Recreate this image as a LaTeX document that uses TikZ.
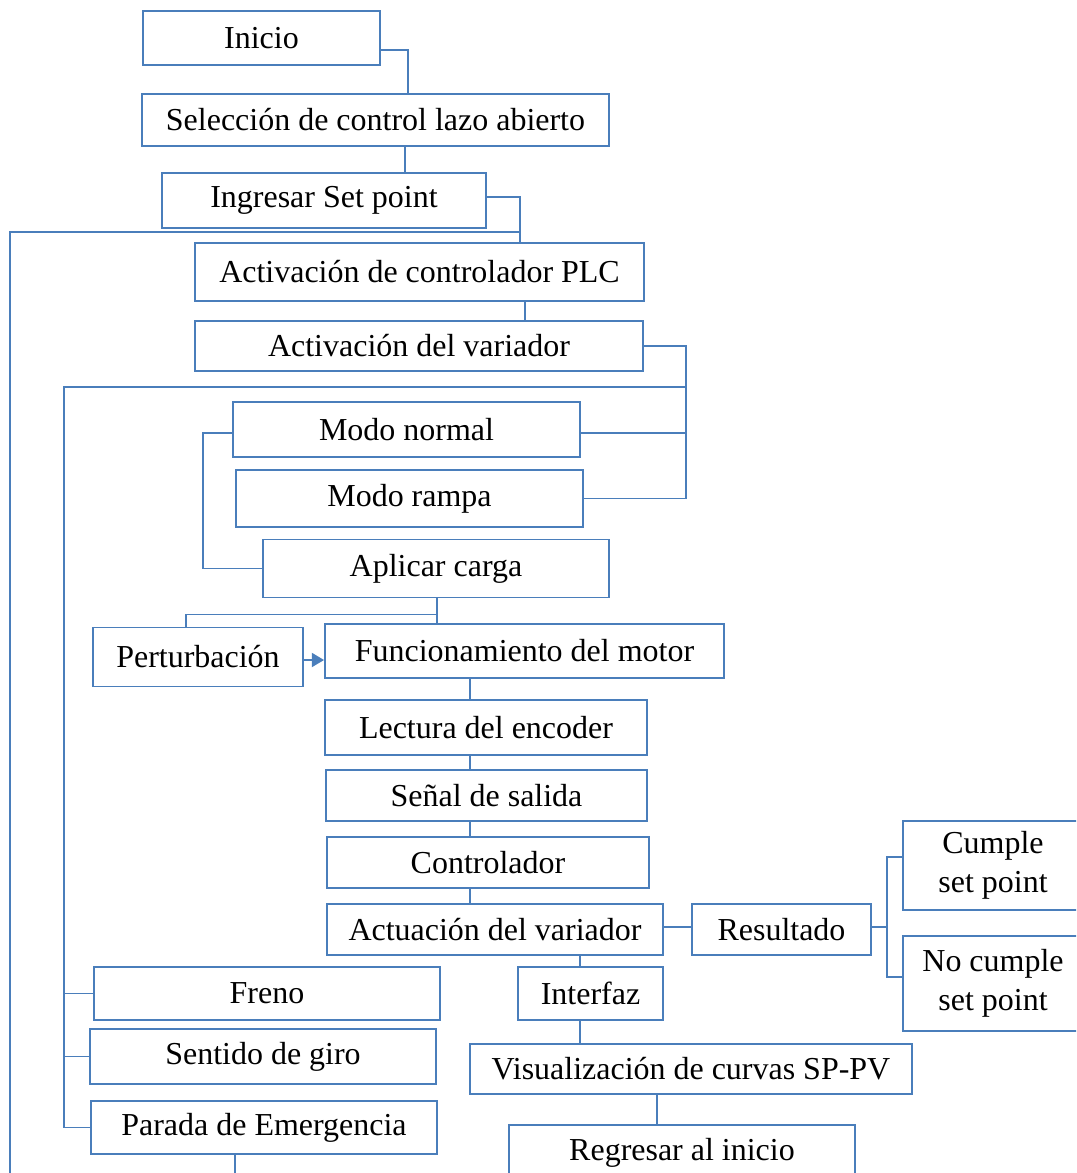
\documentclass[tikz,border=0pt]{standalone}
\usepackage{fontspec}
\setmainfont{Liberation Serif}
\usepackage{tikz}
\usetikzlibrary{arrows.meta}
\definecolor{boxblue}{HTML}{4A7EBB}

\begin{document}
\begin{tikzpicture}[
  x=0.02cm, y=-0.02cm,
  box/.style={rectangle, draw=boxblue, line width=1.1pt, inner sep=0pt,
              minimum height=1.08cm, align=center,
              font=\fontsize{18.2}{22}\selectfont},
  link/.style={draw=boxblue, line width=1.1pt},
  arr/.style={link, -{Triangle[length=7pt, width=8pt]}, boxblue}
]
\useasboundingbox (0,0) rectangle (1076,1173);
\clip (0,0) rectangle (1076,1173);

% Start and set point
\node[box, minimum width=4.74cm] (ini) at (261.5,38) {Inicio};
\node[box, minimum width=9.34cm, minimum height=1.04cm] (sel) at (375.5,120) {Selección de control lazo abierto};
\node[box, minimum width=6.48cm, minimum height=1.10cm] (sp) at (324,200.5) {Ingresar Set point};

% PLC and drive
\node[box, minimum width=8.98cm, minimum height=1.16cm] (plc) at (419.5,272) {Activación de controlador PLC};
\node[box, minimum width=8.96cm, minimum height=1.00cm] (var) at (419,346) {Activación del variador};
\node[box, minimum width=6.94cm, minimum height=1.10cm] (norm) at (406.5,429.5) {Modo normal};
\node[box, minimum width=6.94cm, minimum height=1.14cm] (ramp) at (409.5,498.5) {Modo rampa};
\node[box, minimum width=6.92cm, minimum height=1.16cm] (carga) at (436,568.5) {Aplicar carga};

% Motor loop
\node[box, minimum width=4.20cm, minimum height=1.18cm] (pert) at (198,657) {Perturbación};
\node[box, minimum width=7.98cm] (motor) at (524.5,651) {Funcionamiento del motor};
\node[box, minimum width=6.44cm, minimum height=1.10cm] (enc) at (486,727.5) {Lectura del encoder};
\node[box, minimum width=6.42cm, minimum height=1.02cm] (sal) at (486.5,795.5) {Señal de salida};
\node[box, minimum width=6.44cm, minimum height=1.02cm] (ctrl) at (488,862.5) {Controlador};
\node[box, minimum width=6.72cm, minimum height=1.02cm] (act) at (495,929.5) {Actuación del variador};

% Result
\node[box, minimum width=3.58cm, minimum height=1.02cm] (res) at (781.5,929.5) {Resultado};
\node[box, minimum width=3.60cm, minimum height=1.78cm] (cum) at (993,865.5) {Cumple\\set point};
\node[box, minimum width=3.60cm, minimum height=1.90cm] (nocum) at (993,983.5) {No cumple\\set point};

% Interface
\node[box, minimum width=2.90cm, minimum height=1.06cm] (intf) at (590.5,993.5) {Interfaz};
\node[box, minimum width=8.84cm, minimum height=1.00cm] (vis) at (691,1069) {Visualización de curvas SP-PV};
\node[box, minimum width=6.92cm, minimum height=1.12cm] (reg) at (682,1153) {Regresar al inicio};

% Manual actions
\node[box, minimum width=6.92cm, minimum height=1.06cm] (freno) at (267,993.5) {Freno};
\node[box, minimum width=6.92cm, minimum height=1.10cm] (giro) at (263,1056.5) {Sentido de giro};
\node[box, minimum width=6.92cm, minimum height=1.06cm] (parada) at (264,1127.5) {Parada de Emergencia};

\coordinate (ret) at (10,1200);
\coordinate (pout) at (235,1200);
\coordinate (rj) at (887,927);

% Connectors
\draw[link] (ini.east |- 0,50) -| (sel.north -| 408,0);
\draw[link] (sel.south -| 405,0) -- (sp.north -| 405,0);
\draw[link] (sp.east |- 0,197) -| (plc.north -| 520,0);
\draw[link] (plc.north -| 520,0) ++(0,-10) -| (ret);
\draw[link] (plc.south -| 525,0) -- (var.north -| 525,0);
\draw[link] (var.east) -| (ramp.east -| 686,0) -- (ramp.east);
\draw[link] (norm.east |- 0,433) -- (686,433);
\draw[link] (var.south -| 686,0) ++(0,15) -| (parada.west -| 64,0) -- (parada.west);
\draw[link] (freno.west -| 64,0) -- (freno.west);
\draw[link] (giro.west -| 64,0) -- (giro.west);
\draw[link] (norm.west |- 0,433) -- ++(-29,0) |- (carga.west);
\draw[link] (carga.south -| 437,0) -- (motor.north -| 437,0);
\draw[link] (carga.south -| 437,0) ++(0,16) -| (pert.north -| 186,0);
\draw[arr] (pert.east |- 0,660) -- (motor.west |- 0,660);
\foreach \a/\b in {motor/enc, enc/sal, sal/ctrl, ctrl/act}
  \draw[link] (\a.south -| 470,0) -- (\b.north -| 470,0);
\draw[link] (act.east |- rj) -- (res.west |- rj);
\draw[link] (res.east |- rj) -- (rj);
\draw[link] (cum.west |- 0,857) -| (rj) |- (nocum.west |- 0,977);
\draw[link] (act.south -| 580,0) -- (intf.north -| 580,0);
\draw[link] (intf.south -| 580,0) -- (vis.north -| 580,0);
\draw[link] (vis.south -| 657,0) -- (reg.north -| 657,0);
\draw[link] (parada.south -| 235,0) -- (pout);
\end{tikzpicture}
\end{document}
